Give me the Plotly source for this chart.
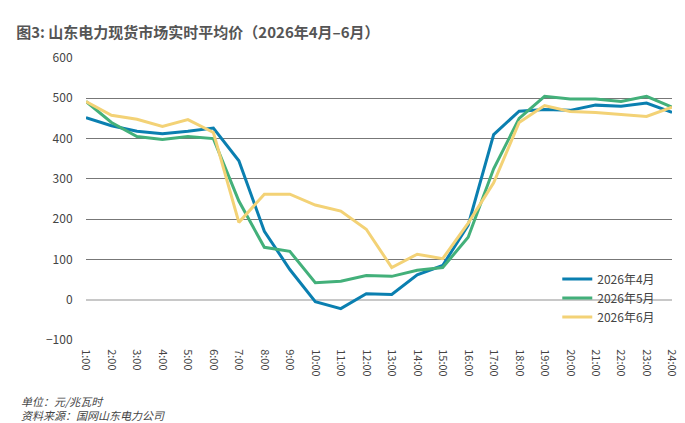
import plotly.graph_objects as go

hours = [f"{h}:00" for h in range(1, 25)]
apr = [452, 432, 418, 412, 418, 426, 345, 170, 75, -5, -22, 15, 13, 62, 85, 185, 410, 468, 472, 470, 483, 480, 488, 465]
may = [492, 440, 405, 398, 405, 400, 245, 130, 120, 42, 46, 60, 58, 73, 80, 155, 325, 450, 505, 498, 498, 492, 505, 478]
jun = [492, 458, 448, 430, 447, 415, 192, 262, 262, 235, 220, 175, 80, 113, 102, 190, 290, 440, 482, 467, 465, 460, 455, 478]

fig = go.Figure()
for name, ys, c in [("2026年4月", apr, "#0a7fb0"), ("2026年5月", may, "#43b07a"), ("2026年6月", jun, "#f3d276")]:
    fig.add_trace(go.Scatter(x=hours, y=ys, name=name, mode="lines", line=dict(color=c, width=3)))

fig.update_layout(
    width=685, height=423, plot_bgcolor="white", paper_bgcolor="white",
    font=dict(family="Noto Sans CJK SC", size=12, color="#444"),
    margin=dict(l=78, r=18, t=50, b=91),
    title=dict(text="<b>图3: 山东电力现货市场实时平均价（2026年4月–6月）</b>", x=0.012, y=0.955,
               font=dict(size=15, color="#555")),
    legend=dict(x=0.98, y=0.03, xanchor="right", yanchor="bottom", bgcolor="rgba(0,0,0,0)",
                font=dict(size=12, color="#444")),
    showlegend=True,
)
fig.update_xaxes(tickangle=90, showgrid=False, ticks="outside", ticklen=6, tickcolor="white",
                 tickfont=dict(size=11))
fig.update_yaxes(range=[-100, 600], dtick=100, showgrid=True, gridcolor="#777", gridwidth=1,
                 zeroline=True, zerolinecolor="#c8c8c8", zerolinewidth=2, tickfont=dict(size=12),
                 ticks="outside", ticklen=10, tickcolor="white")
fig.add_annotation(text="<i>单位：元/兆瓦时<br>资料来源：国网山东电力公司</i>", xref="paper", yref="paper",
                   x=-0.115, y=-0.18, xanchor="left", yanchor="top", showarrow=False, align="left",
                   font=dict(size=11, color="#444"))
fig.write_html("out.html")
